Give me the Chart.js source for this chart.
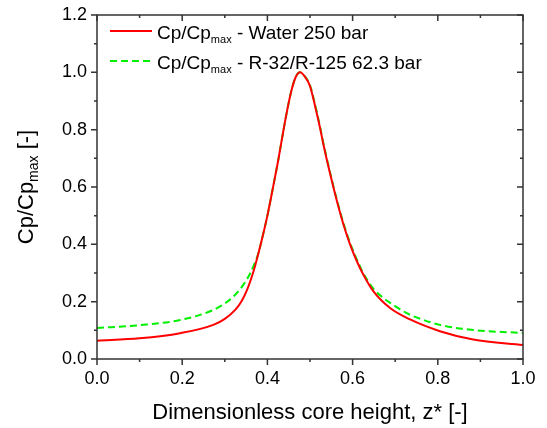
<!DOCTYPE html>
<html>
<head>
<meta charset="utf-8">
<script src="https://cdn.jsdelivr.net/npm/chart.js@4/dist/chart.umd.min.js"></script>
<style>
  html, body { margin: 0; padding: 0; background: #fff; }
  #wrap { width: 547px; height: 428px; }
</style>
</head>
<body>
<div id="wrap"><canvas id="myChart" width="547" height="428"></canvas></div>
<script>
// values
const waterZ = [0.0, 0.1, 0.195, 0.273, 0.3, 0.325, 0.34, 0.352, 0.363, 0.372, 0.38, 0.39, 0.4, 0.414, 0.425, 0.435, 0.445, 0.456, 0.466, 0.4765, 0.488, 0.5, 0.512, 0.523, 0.531, 0.545, 0.563, 0.578, 0.594, 0.61, 0.625, 0.649, 0.688, 0.735, 0.805, 0.883, 1.0];
const waterCp = [0.064, 0.072, 0.09, 0.119, 0.14, 0.172, 0.203, 0.24, 0.285, 0.33, 0.375, 0.435, 0.50, 0.605, 0.69, 0.775, 0.857, 0.934, 0.982, 1.0, 0.985, 0.952, 0.882, 0.81, 0.752, 0.66, 0.552, 0.472, 0.40, 0.341, 0.295, 0.236, 0.178, 0.138, 0.097, 0.068, 0.049];

const r32Z = [0.0, 0.1, 0.195, 0.273, 0.304, 0.325, 0.345, 0.36, 0.37, 0.379, 0.39, 0.4, 0.414, 0.425, 0.435, 0.445, 0.456, 0.466, 0.4765, 0.488, 0.5, 0.512, 0.523, 0.531, 0.545, 0.563, 0.578, 0.594, 0.61, 0.625, 0.649, 0.672, 0.688, 0.727, 0.75, 0.805, 0.883, 1.0];
const r32Cp = [0.108, 0.118, 0.136, 0.171, 0.198, 0.225, 0.262, 0.30, 0.334, 0.37, 0.435, 0.50, 0.605, 0.69, 0.775, 0.857, 0.934, 0.982, 1.0, 0.986, 0.955, 0.887, 0.815, 0.756, 0.664, 0.556, 0.476, 0.405, 0.347, 0.30, 0.245, 0.213, 0.196, 0.16, 0.145, 0.119, 0.101, 0.091];

const seriesNames = ["Water 250 bar", "R-32/R-125 62.3 bar"];
const xTitle = "Dimensionless core height, z* [-]";

const FONT = "'Liberation Sans', Arial, sans-serif";

function toPoints(xs, ys) {
  return xs.map((x, i) => ({x: x, y: ys[i]}));
}

// frame, tick marks, legend and axis titles
const decor = {
  id: 'decor',
  afterDraw(chart) {
    const ctx = chart.ctx;
    const a = chart.chartArea;
    const xs = chart.scales.x, ys = chart.scales.y;
    ctx.save();
    ctx.strokeStyle = '#333';
    ctx.lineWidth = 1.5;
    ctx.strokeRect(a.left, a.top, a.right - a.left, a.bottom - a.top);

    ctx.beginPath();
    xs.ticks.forEach((t, i) => {
      const px = xs.getPixelForValue(t.value);
      const len = i % 2 === 0 ? 6 : 3;
      ctx.moveTo(px, a.bottom); ctx.lineTo(px, a.bottom + len);
      ctx.moveTo(px, a.top); ctx.lineTo(px, a.top + len);
    });
    ys.ticks.forEach((t, i) => {
      const py = ys.getPixelForValue(t.value);
      const len = i % 2 === 0 ? 6 : 3;
      ctx.moveTo(a.left, py); ctx.lineTo(a.left - len, py);
      ctx.moveTo(a.right, py); ctx.lineTo(a.right - len, py);
    });
    ctx.stroke();

    // legend
    const ds = chart.data.datasets;
    ds.forEach((d, i) => {
      const ly = 31 + i * 30;
      ctx.beginPath();
      ctx.strokeStyle = d.borderColor;
      ctx.lineWidth = 2;
      ctx.setLineDash(d.borderDash || []);
      ctx.moveTo(110, ly); ctx.lineTo(152, ly);
      ctx.stroke();
      ctx.setLineDash([]);
      ctx.fillStyle = '#000';
      ctx.textBaseline = 'alphabetic';
      ctx.textAlign = 'left';
      let x = 157;
      const base = ly + 8;
      ctx.font = '19px ' + FONT;
      ctx.fillText('Cp/Cp', x, base);
      x += ctx.measureText('Cp/Cp').width;
      ctx.font = '11px ' + FONT;
      ctx.fillText('max', x, base + 4);
      x += ctx.measureText('max').width;
      ctx.font = '19px ' + FONT;
      ctx.fillText(' - ' + seriesNames[i], x, base);
    });

    // x title
    ctx.fillStyle = '#000';
    ctx.font = '22px ' + FONT;
    ctx.textAlign = 'center';
    ctx.fillText(xTitle, (a.left + a.right) / 2, 419);

    // y title with subscript
    ctx.translate(33, (a.top + a.bottom) / 2);
    ctx.rotate(-Math.PI / 2);
    ctx.textAlign = 'left';
    ctx.font = '22px ' + FONT;
    const w1 = ctx.measureText('Cp/Cp').width;
    const w3 = ctx.measureText(' [-]').width;
    ctx.font = '14px ' + FONT;
    const w2 = ctx.measureText('max').width;
    let x0 = -(w1 + w2 + w3) / 2;
    ctx.font = '22px ' + FONT;
    ctx.fillText('Cp/Cp', x0, 0);
    ctx.font = '14px ' + FONT;
    ctx.fillText('max', x0 + w1, 5);
    ctx.font = '22px ' + FONT;
    ctx.fillText(' [-]', x0 + w1 + w2, 0);
    ctx.restore();
  }
};

const myChart = document.getElementById('myChart');
const lineChart = new Chart(myChart, {
  type: 'scatter',
  data: {
    datasets: [{
      label: seriesNames[0],
      data: toPoints(waterZ, waterCp),
      showLine: true,
      borderColor: '#ff0000',
      borderWidth: 2,
      pointRadius: 0,
      cubicInterpolationMode: 'monotone'
    }, {
      label: seriesNames[1],
      data: toPoints(r32Z, r32Cp),
      showLine: true,
      borderColor: '#00f000',
      borderWidth: 2,
      borderDash: [7, 4],
      pointRadius: 0,
      cubicInterpolationMode: 'monotone'
    }]
  },
  options: {
    responsive: false,
    animation: false,
    layout: { padding: { top: 15, right: 24, left: 0, bottom: 0 } },
    plugins: { legend: { display: false }, tooltip: { enabled: false } },
    scales: {
      x: {
        type: 'linear',
        min: 0, max: 1,
        grid: { display: false, drawTicks: false },
        border: { display: false },
        ticks: {
          stepSize: 0.1,
          autoSkip: false,
          maxRotation: 0,
          padding: 9,
          color: '#000',
          font: { family: FONT, size: 18 },
          callback: (v, i) => i % 2 === 0 ? v.toFixed(1) : ''
        },
        afterFit: s => { s.height = 69; s.paddingLeft = 0; s.paddingRight = 0; }
      },
      y: {
        min: 0, max: 1.2,
        grid: { display: false, drawTicks: false },
        border: { display: false },
        ticks: {
          stepSize: 0.1,
          autoSkip: false,
          padding: 10,
          color: '#000',
          font: { family: FONT, size: 18 },
          callback: (v, i) => i % 2 === 0 ? v.toFixed(1) : ''
        },
        afterFit: s => { s.width = 97; s.paddingTop = 0; s.paddingBottom = 0; }
      }
    }
  },
  plugins: [decor]
});
</script>
</body>
</html>
